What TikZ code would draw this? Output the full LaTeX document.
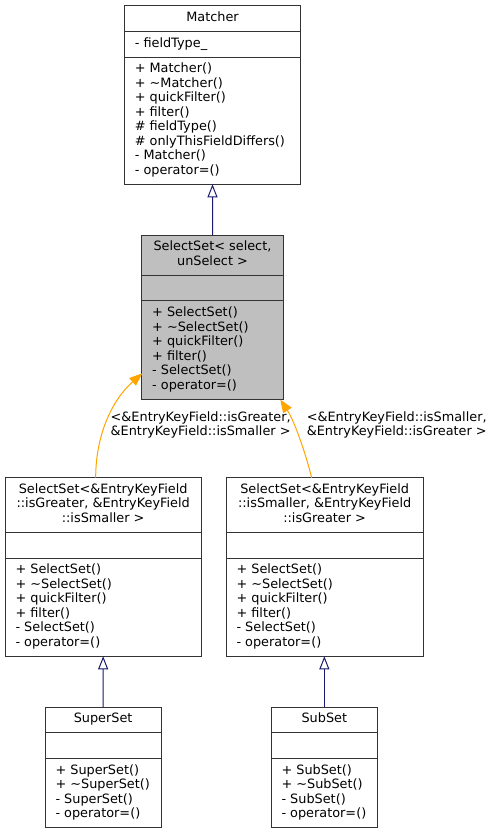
\documentclass[tikz,border=0pt]{standalone}
\usepackage{fontspec}
\setmainfont{DejaVu Sans}
\usetikzlibrary{arrows.meta}
\definecolor{edgeblue}{HTML}{191970}
\definecolor{tmplorange}{HTML}{FFA500}
\definecolor{selgray}{HTML}{BFBFBF}
\definecolor{border}{HTML}{333333}
\newcommand\linesat[4]{%
  \foreach \t [count=\i from 0] in {#4}
    \node[txt] (#3-\i) at (#1,{#2+\i*14.5}) {\t};}
\begin{document}
\begin{tikzpicture}[x=1bp,y=-1bp,
  cls/.style={draw=border, line width=1bp, inner sep=0pt, outer sep=0pt, anchor=north west, fill=white},
  divider/.style={draw=border, line width=1bp},
  txt/.style={inner sep=0pt, outer sep=0pt, anchor=base west, font=\fontsize{12.85bp}{14.5bp}\selectfont},
  ttl/.style={txt, anchor=base},
  inh/.style={draw=edgeblue, line width=1bp, -{Triangle[open, length=13bp, width=10bp]}},
  tmpl/.style={draw=tmplorange, line width=1bp, -{Triangle[length=13bp, width=10bp]}},
]
\fill[white] (0,0) rectangle (495,833);
\useasboundingbox (0,0) rectangle (495,833);

% Matcher
\node[cls, minimum width=176.4bp, minimum height=178.6bp] (matcher) at (124.3,5.7) {};
\draw[divider] (matcher.west |- 0,31.4) -- (matcher.east |- 0,31.4);
\draw[divider] (matcher.west |- 0,57.1) -- (matcher.east |- 0,57.1);
\node[ttl] (matcher-title) at (212.5,21.4) {Matcher};
\node[txt] (matcher-attr) at (134.8,47.1) {- fieldType\_};
\linesat{134.8}{72.8}{mm}{{+ Matcher()},{+ \textasciitilde Matcher()},{+ quickFilter()},{+ filter()},{\# fieldType()},{\# onlyThisFieldDiffers()},{- Matcher()},{- operator=()}}

% SelectSet
\node[cls, fill=selgray, minimum width=141.6bp, minimum height=164.1bp] (sel) at (141.7,235) {};
\draw[divider] (sel.west |- 0,275.2) -- (sel.east |- 0,275.2);
\draw[divider] (sel.west |- 0,300.9) -- (sel.east |- 0,300.9);
\node[ttl] (sel-t0) at (212.5,250.7) {SelectSet< select,};
\node[ttl] (sel-t1) at (212.5,265.2) {unSelect >};
\linesat{152.2}{316.6}{sm}{{+ SelectSet()},{+ \textasciitilde SelectSet()},{+ quickFilter()},{+ filter()},{- SelectSet()},{- operator=()}}

% Bottom-left instance
\node[cls, minimum width=196.3bp, minimum height=178.6bp] (bl) at (5,477.7) {};
\draw[divider] (bl.west |- 0,532.4) -- (bl.east |- 0,532.4);
\draw[divider] (bl.west |- 0,558.1) -- (bl.east |- 0,558.1);
\node[ttl] (bl-t0) at (103.15,493.4) {SelectSet<\&EntryKeyField};
\node[ttl] (bl-t1) at (103.15,507.9) {::isGreater, \&EntryKeyField};
\node[ttl] (bl-t2) at (103.15,522.4) {::isSmaller >};
\linesat{15.5}{573.8}{blm}{{+ SelectSet()},{+ \textasciitilde SelectSet()},{+ quickFilter()},{+ filter()},{- SelectSet()},{- operator=()}}

% Bottom-right instance
\node[cls, minimum width=197.3bp, minimum height=178.6bp] (br) at (226,477.7) {};
\draw[divider] (br.west |- 0,532.4) -- (br.east |- 0,532.4);
\draw[divider] (br.west |- 0,558.1) -- (br.east |- 0,558.1);
\node[ttl] (br-t0) at (324.65,493.4) {SelectSet<\&EntryKeyField};
\node[ttl] (br-t1) at (324.65,507.9) {::isSmaller, \&EntryKeyField};
\node[ttl] (br-t2) at (324.65,522.4) {::isGreater >};
\linesat{236.5}{573.8}{brm}{{+ SelectSet()},{+ \textasciitilde SelectSet()},{+ quickFilter()},{+ filter()},{- SelectSet()},{- operator=()}}

% SuperSet
\node[cls, minimum width=116.3bp, minimum height=120.6bp] (super) at (45,707) {};
\draw[divider] (super.west |- 0,732.7) -- (super.east |- 0,732.7);
\draw[divider] (super.west |- 0,758.4) -- (super.east |- 0,758.4);
\node[ttl] (super-title) at (103.15,722.7) {SuperSet};
\linesat{55.5}{774.1}{spm}{{+ SuperSet()},{+ \textasciitilde SuperSet()},{- SuperSet()},{- operator=()}}

% SubSet
\node[cls, minimum width=106.7bp, minimum height=120.6bp] (sub) at (271,707) {};
\draw[divider] (sub.west |- 0,732.7) -- (sub.east |- 0,732.7);
\draw[divider] (sub.west |- 0,758.4) -- (sub.east |- 0,758.4);
\node[ttl] (sub-title) at (324.35,722.7) {SubSet};
\linesat{281.5}{774.1}{sbm}{{+ SubSet()},{+ \textasciitilde SubSet()},{- SubSet()},{- operator=()}}

% inheritance edges
\draw[inh] (sel.north) -- (matcher.south);
\draw[inh] (super.north) -- (bl.south);
\draw[inh] (sub.north) -- (sub.north |- br.south);

% template instance edges
\coordinate (l0) at (95.7,477.7);
\coordinate (l1) at (142.3,373.3);
\coordinate (r0) at (311.7,477.7);
\coordinate (r1) at (280.3,399.6);
\draw[tmpl] (l0) .. controls (95.7,435) and (112,400) .. (l1);
\draw[tmpl] (r0) .. controls (306,455) and (295,422) .. (r1);
\node[txt, align=left, anchor=base west, font=\fontsize{12.85bp}{13.4bp}\selectfont] (lab-l) at (110.7,435.3) {<\&EntryKeyField::isGreater,\\\&EntryKeyField::isSmaller >};
\node[txt, align=left, anchor=base west, font=\fontsize{12.85bp}{13.4bp}\selectfont] (lab-r) at (306.8,435.3) {<\&EntryKeyField::isSmaller,\\\&EntryKeyField::isGreater >};
\end{tikzpicture}
\end{document}
